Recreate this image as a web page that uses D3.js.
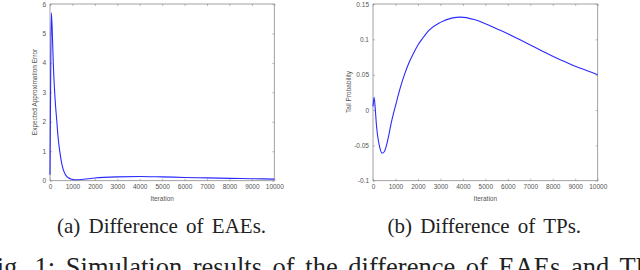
<!DOCTYPE html>
<html>
<head>
<meta charset="utf-8">
<script src="https://cdn.jsdelivr.net/npm/d3@7"></script>
<style>
body { margin: 0; background: white; }
svg { display: block; }
</style>
</head>
<body>
<svg width="640" height="270"></svg>
<script>
// iteration values
var eaeIter = [0, 30, 60, 100, 150, 220, 300, 370, 450, 520, 600, 700, 820, 960, 1200, 1500, 2000, 3000, 4000, 5000, 6000, 7000, 8000, 9000, 10000];
var eaeDiff = [0.2, 3.5, 5.7, 5.1, 3.9, 2.85, 2.05, 1.4, 0.92, 0.6, 0.36, 0.19, 0.1, 0.05, 0.03, 0.05, 0.09, 0.13, 0.145, 0.13, 0.11, 0.095, 0.08, 0.067, 0.055];

var tpIter = [0, 50, 100, 150, 200, 300, 400, 500, 600, 700, 800, 900, 1000, 1200, 1400, 1600, 1800, 2000, 2200, 2500, 3000, 3500, 3900, 4500, 5000, 5500, 6000, 6500, 7000, 7500, 8000, 8500, 9000, 9500, 10000];
var tpDiff = [0.005, 0.018, 0.002, -0.02, -0.035, -0.053, -0.061, -0.059, -0.05, -0.036, -0.02, -0.006, 0.006, 0.03, 0.05, 0.067, 0.08, 0.092, 0.101, 0.113, 0.124, 0.13, 0.1315, 0.128, 0.122, 0.115, 0.108, 0.1, 0.092, 0.084, 0.076, 0.069, 0.062, 0.056, 0.05];

var xTicks = [0, 1000, 2000, 3000, 4000, 5000, 6000, 7000, 8000, 9000, 10000];
var eaeTicks = [0, 1, 2, 3, 4, 5, 6];
var tpTicks = [-0.1, -0.05, 0, 0.05, 0.1, 0.15];
var tpTickLabels = ['-0.1', '-0.05', '0', '0.05', '0.1', '0.15'];

var sans = "'Liberation Sans', Arial, sans-serif";
var serif = "'Liberation Serif', 'Times New Roman', 'DejaVu Serif', serif";

var svg = d3.select('svg');

function panel(opt) {
    var x = d3.scaleLinear().domain([0, 10000]).range([opt.left, opt.right]);
    var y = d3.scaleLinear().domain(opt.yDomain).range([180.7, 4]);

    var g = svg.append('g');

    // frame box
    g.append('rect')
	.attr('x', opt.left)
	.attr('y', 4)
	.attr('width', opt.right - opt.left)
	.attr('height', 176.7)
	.attr('fill', 'none')
	.attr('stroke', '#8a8a8a')
	.attr('stroke-width', 0.8);

    var bottom = g.append('g')
	.attr('transform', 'translate(0,180.7)')
	.call(d3.axisBottom(x).tickValues(xTicks).tickSize(-2).tickPadding(4).tickFormat(d3.format('d')));
    var top = g.append('g')
	.attr('transform', 'translate(0,4)')
	.call(d3.axisTop(x).tickValues(xTicks).tickSize(-2).tickFormat(''));
    var left = g.append('g')
	.attr('transform', 'translate(' + opt.left + ',0)')
	.call(d3.axisLeft(y).tickValues(opt.yTicks).tickSize(-2).tickPadding(4)
	      .tickFormat(function (d, i) { return opt.yLabels[i]; }));
    var right = g.append('g')
	.attr('transform', 'translate(' + opt.right + ',0)')
	.call(d3.axisRight(y).tickValues(opt.yTicks).tickSize(-2).tickFormat(''));

    [bottom, top, left, right].forEach(function (a) {
	a.select('.domain').remove();
	a.selectAll('line').attr('stroke', '#8a8a8a').attr('stroke-width', 0.6);
	a.selectAll('text')
	    .style('font-family', sans)
	    .style('font-size', '6.5px')
	    .attr('fill', '#555');
    });

    g.append('path')
	.datum(opt.iter)
	.attr('fill', 'none')
	.attr('stroke', '#2a2aff')
	.attr('stroke-width', 1.1)
	.attr('d', d3.line()
	      .x(function (d) { return x(d); })
	      .y(function (d, i) { return y(opt.vals[i]); })
	      .curve(d3.curveMonotoneX));

    g.append('text')
	.attr('x', (opt.left + opt.right) / 2)
	.attr('y', 200.5)
	.attr('text-anchor', 'middle')
	.style('font-family', sans)
	.style('font-size', '6.5px')
	.attr('fill', '#555')
	.text('Iteration');

    g.append('text')
	.attr('transform', 'translate(' + opt.yLabelX + ',92) rotate(-90)')
	.attr('text-anchor', 'middle')
	.style('font-family', sans)
	.style('font-size', '6.5px')
	.attr('fill', '#555')
	.text(opt.yTitle);

    g.append('text')
	.attr('x', opt.captionX)
	.attr('y', 232.5)
	.attr('text-anchor', 'middle')
	.style('font-family', serif)
	.style('font-size', '21px')
	.style('word-spacing', '3px')
	.attr('fill', '#222')
	.text(opt.caption);
}

panel({
    left: 50, right: 274.3,
    yDomain: [0, 6], yTicks: eaeTicks,
    yLabels: eaeTicks.map(String),
    iter: eaeIter, vals: eaeDiff,
    yTitle: 'Expected Approximation Error', yLabelX: 36.5,
    caption: '(a) Difference of EAEs.', captionX: 161.5
});

panel({
    left: 373, right: 597.7,
    yDomain: [-0.1, 0.15], yTicks: tpTicks,
    yLabels: tpTickLabels,
    iter: tpIter, vals: tpDiff,
    yTitle: 'Tail Probability', yLabelX: 350.5,
    caption: '(b) Difference of TPs.', captionX: 484.3
});

svg.append('text')
    .attr('x', -18)
    .attr('y', 276)
    .style('font-family', serif)
    .style('font-size', '26.5px')
    .style('word-spacing', '4px')
    .attr('fill', '#222')
    .text('Fig. 1: Simulation results of the difference of EAEs and TPs.');
</script>
</body>
</html>
